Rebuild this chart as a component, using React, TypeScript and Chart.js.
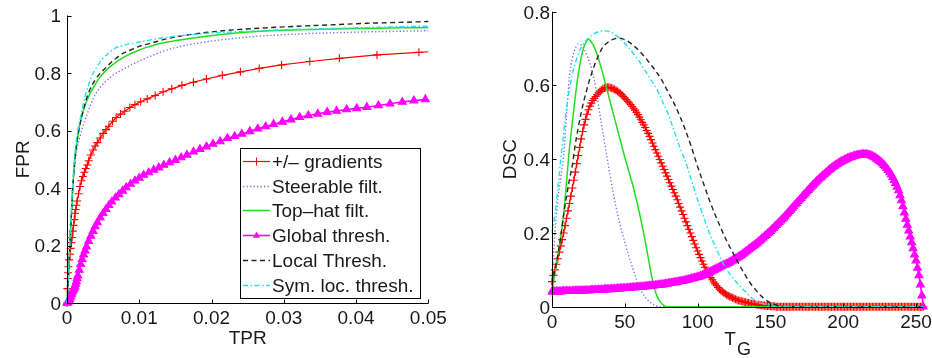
import React, { useEffect, useRef } from "react";
import { Chart, registerables } from "chart.js";

Chart.register(...registerables);

const FONT = '"Liberation Sans", Arial, Helvetica, sans-serif';
const TEXT = "#1a1a1a";

// ---------------- Left panel: FPR vs TPR ----------------
const rocXTicks = [0, 0.01, 0.02, 0.03, 0.04, 0.05];
const rocXTickLabels = ["0", "0.01", "0.02", "0.03", "0.04", "0.05"];
const rocYTicks = [0, 0.2, 0.4, 0.6, 0.8, 1];
const rocYTickLabels = ["0", "0.2", "0.4", "0.6", "0.8", "1"];

const rocGradX = [0, 0.00005, 0.0001, 0.00015, 0.0002, 0.0003, 0.0004, 0.0005, 0.0006, 0.0007,
  0.0008, 0.0009, 0.001, 0.0011, 0.0012, 0.0013, 0.0014, 0.0016, 0.0018, 0.002,
  0.0022, 0.0024, 0.0026, 0.0028, 0.003, 0.0033, 0.0036, 0.0039, 0.0042, 0.0046,
  0.005, 0.0054, 0.0058, 0.0063, 0.0068, 0.0074, 0.008, 0.0087, 0.0094, 0.0102,
  0.0111, 0.0122, 0.0133, 0.0145, 0.0159, 0.0175, 0.0193, 0.0215, 0.024, 0.0266,
  0.0297, 0.0336, 0.0377, 0.0429, 0.0487, 0.05];
const rocGradY = [0, 0.05, 0.085, 0.105, 0.126, 0.15, 0.17, 0.19, 0.21, 0.228,
  0.25, 0.27, 0.29, 0.312, 0.325, 0.34, 0.355, 0.38, 0.405, 0.425,
  0.44, 0.455, 0.468, 0.48, 0.495, 0.515, 0.532, 0.546, 0.558, 0.574,
  0.59, 0.603, 0.615, 0.632, 0.645, 0.657, 0.667, 0.68, 0.69, 0.7,
  0.71, 0.722, 0.735, 0.745, 0.757, 0.768, 0.779, 0.792, 0.804, 0.816,
  0.828, 0.84, 0.851, 0.863, 0.872, 0.874];

const rocSteerX = [0, 0.0002, 0.0004, 0.0006, 0.0008, 0.0011, 0.0014, 0.0018, 0.0024, 0.003,
  0.0036, 0.0046, 0.006, 0.0083, 0.0115, 0.0145, 0.0184, 0.023, 0.0277, 0.0323,
  0.0369, 0.0415, 0.046, 0.05];
const rocSteerY = [0, 0.1, 0.22, 0.32, 0.41, 0.49, 0.54, 0.578, 0.63, 0.671,
  0.71, 0.75, 0.785, 0.82, 0.858, 0.885, 0.905, 0.92, 0.93, 0.936,
  0.94, 0.943, 0.945, 0.947];

const rocTopHatX = [0, 0.0002, 0.0004, 0.0006, 0.0008, 0.0011, 0.0014, 0.0017, 0.0021, 0.0026,
  0.0032, 0.0039, 0.0047, 0.0057, 0.0068, 0.008, 0.0095, 0.011, 0.0125, 0.0145,
  0.0165, 0.0185, 0.023, 0.0275, 0.0323, 0.037, 0.0415, 0.046, 0.05];
const rocTopHatY = [0, 0.09, 0.2, 0.3, 0.4, 0.5, 0.56, 0.61, 0.655, 0.695,
  0.729, 0.76, 0.79, 0.816, 0.838, 0.857, 0.875, 0.889, 0.9, 0.91,
  0.918, 0.925, 0.938, 0.946, 0.95, 0.953, 0.955, 0.957, 0.958];

const rocGlobalX = [0, 0.0001, 0.0002, 0.0003, 0.0004, 0.0005, 0.0006, 0.0007, 0.0008, 0.0009,
  0.001, 0.0011, 0.0012, 0.0013, 0.0014, 0.0015, 0.0017, 0.0019, 0.0021, 0.0023,
  0.0025, 0.0027, 0.003, 0.0033, 0.0036, 0.0039, 0.0042, 0.0046, 0.005, 0.0054,
  0.0058, 0.0062, 0.0067, 0.0072, 0.0077, 0.0082, 0.0088, 0.0094, 0.01, 0.0106,
  0.0113, 0.012, 0.0127, 0.0134, 0.0142, 0.015, 0.0158, 0.0166, 0.0175, 0.0184,
  0.0193, 0.0202, 0.0212, 0.0222, 0.0232, 0.0242, 0.0253, 0.0264, 0.0275, 0.0286,
  0.0298, 0.031, 0.0322, 0.0334, 0.0347, 0.036, 0.0373, 0.0387, 0.0401, 0.0415,
  0.0431, 0.0447, 0.0464, 0.048, 0.0496];
const rocGlobalY = [0, 0.002, 0.005, 0.01, 0.015, 0.022, 0.03, 0.036, 0.042, 0.048,
  0.053, 0.058, 0.066, 0.075, 0.085, 0.095, 0.115, 0.135, 0.152, 0.168,
  0.182, 0.196, 0.215, 0.233, 0.25, 0.266, 0.28, 0.297, 0.312, 0.326,
  0.34, 0.352, 0.366, 0.378, 0.39, 0.402, 0.414, 0.425, 0.435, 0.445,
  0.454, 0.463, 0.471, 0.48, 0.489, 0.497, 0.506, 0.515, 0.526, 0.535,
  0.544, 0.553, 0.562, 0.573, 0.58, 0.588, 0.597, 0.606, 0.614, 0.622,
  0.63, 0.638, 0.646, 0.652, 0.658, 0.664, 0.668, 0.673, 0.677, 0.681,
  0.687, 0.693, 0.699, 0.704, 0.708];

const rocLocalX = [0, 0.0002, 0.0004, 0.0006, 0.0008, 0.0011, 0.00134, 0.0017, 0.00226, 0.00295,
  0.0039, 0.00526, 0.0065, 0.0076, 0.0088, 0.0099, 0.0115, 0.014, 0.0166, 0.02,
  0.023, 0.0275, 0.0323, 0.037, 0.0415, 0.046, 0.05];
const rocLocalY = [0, 0.09, 0.2, 0.3, 0.4, 0.5, 0.555, 0.61, 0.671, 0.729,
  0.776, 0.816, 0.845, 0.866, 0.88, 0.892, 0.903, 0.92, 0.932, 0.943,
  0.95, 0.957, 0.963, 0.968, 0.973, 0.976, 0.979];

const rocSymX = [0, 0.0002, 0.0004, 0.0006, 0.0008, 0.0011, 0.0014, 0.0018, 0.0025, 0.0034,
  0.0041, 0.0048, 0.0057, 0.0066, 0.0078, 0.009, 0.0105, 0.0122, 0.014, 0.0166,
  0.02, 0.023, 0.0275, 0.0323, 0.037, 0.0415, 0.046, 0.05];
const rocSymY = [0, 0.1, 0.22, 0.32, 0.42, 0.52, 0.585, 0.637, 0.718, 0.787,
  0.82, 0.845, 0.868, 0.886, 0.896, 0.903, 0.91, 0.918, 0.925, 0.932,
  0.939, 0.943, 0.948, 0.952, 0.955, 0.958, 0.961, 0.963];

// ---------------- Right panel: DSC vs T_G ----------------
const dscXTicks = [0, 50, 100, 150, 200, 250];
const dscXTickLabels = ["0", "50", "100", "150", "200", "250"];
const dscYTicks = [0, 0.2, 0.4, 0.6, 0.8];
const dscYTickLabels = ["0", "0.2", "0.4", "0.6", "0.8"];

// one value per grey level T_G = 0 .. 255
const dscGradY = [
  0.068, 0.085, 0.1, 0.115, 0.13, 0.148, 0.165, 0.182, 0.2, 0.22,
  0.24, 0.26, 0.28, 0.3, 0.322, 0.343, 0.365, 0.388, 0.41, 0.432,
  0.455, 0.475, 0.493, 0.508, 0.522, 0.534, 0.544, 0.552, 0.559, 0.565,
  0.57, 0.575, 0.58, 0.584, 0.588, 0.591, 0.593, 0.594, 0.595, 0.595,
  0.594, 0.593, 0.591, 0.589, 0.587, 0.584, 0.581, 0.578, 0.574, 0.57,
  0.566, 0.562, 0.557, 0.553, 0.548, 0.543, 0.538, 0.533, 0.527, 0.521,
  0.514, 0.507, 0.5, 0.493, 0.486, 0.478, 0.47, 0.462, 0.453, 0.444,
  0.435, 0.426, 0.417, 0.408, 0.399, 0.39, 0.381, 0.372, 0.363, 0.354,
  0.345, 0.336, 0.327, 0.318, 0.309, 0.3, 0.29, 0.28, 0.27, 0.26,
  0.25, 0.24, 0.23, 0.22, 0.21, 0.2, 0.19, 0.18, 0.17, 0.16,
  0.151, 0.142, 0.133, 0.124, 0.115, 0.107, 0.099, 0.092, 0.085, 0.079,
  0.073, 0.067, 0.062, 0.057, 0.052, 0.048, 0.044, 0.041, 0.038, 0.035,
  0.032, 0.03, 0.028, 0.026, 0.024, 0.022, 0.02, 0.019, 0.017, 0.016,
  0.015, 0.014, 0.013, 0.012, 0.011, 0.01, 0.009, 0.008, 0.007, 0.007,
  0.006, 0.005, 0.005, 0.004, 0.004, 0.003, 0.003, 0.002, 0.002, 0.002,
  0.001, 0.001, 0.001, 0.001, 0, 0, 0, 0, 0, 0,
  0, 0, 0, 0, 0, 0, 0, 0, 0, 0,
  0, 0, 0, 0, 0, 0, 0, 0, 0, 0,
  0, 0, 0, 0, 0, 0, 0, 0, 0, 0,
  0, 0, 0, 0, 0, 0, 0, 0, 0, 0,
  0, 0, 0, 0, 0, 0, 0, 0, 0, 0,
  0, 0, 0, 0, 0, 0, 0, 0, 0, 0,
  0, 0, 0, 0, 0, 0, 0, 0, 0, 0,
  0, 0, 0, 0, 0, 0, 0, 0, 0, 0,
  0, 0, 0, 0, 0, 0, 0, 0, 0, 0,
  0, 0, 0, 0, 0, 0];

const dscGlobalY = [
  0.041, 0.041, 0.041, 0.041, 0.041, 0.041, 0.041, 0.042, 0.042, 0.042,
  0.042, 0.042, 0.042, 0.042, 0.042, 0.043, 0.043, 0.043, 0.043, 0.043,
  0.043, 0.043, 0.044, 0.044, 0.044, 0.044, 0.044, 0.045, 0.045, 0.045,
  0.045, 0.045, 0.046, 0.046, 0.046, 0.046, 0.047, 0.047, 0.047, 0.047,
  0.047, 0.048, 0.048, 0.048, 0.048, 0.049, 0.049, 0.049, 0.05, 0.05,
  0.05, 0.05, 0.051, 0.051, 0.051, 0.052, 0.052, 0.052, 0.053, 0.053,
  0.053, 0.054, 0.054, 0.054, 0.055, 0.055, 0.056, 0.056, 0.057, 0.057,
  0.057, 0.058, 0.058, 0.059, 0.059, 0.06, 0.06, 0.061, 0.062, 0.062,
  0.063, 0.064, 0.064, 0.065, 0.066, 0.066, 0.067, 0.068, 0.069, 0.069,
  0.07, 0.071, 0.072, 0.073, 0.074, 0.075, 0.076, 0.077, 0.078, 0.079,
  0.08, 0.081, 0.083, 0.084, 0.086, 0.087, 0.089, 0.091, 0.093, 0.095,
  0.097, 0.099, 0.101, 0.103, 0.105, 0.107, 0.109, 0.111, 0.113, 0.114,
  0.116, 0.118, 0.12, 0.123, 0.125, 0.127, 0.13, 0.132, 0.135, 0.137,
  0.14, 0.143, 0.146, 0.149, 0.152, 0.155, 0.158, 0.161, 0.164, 0.167,
  0.17, 0.173, 0.177, 0.18, 0.184, 0.187, 0.191, 0.194, 0.198, 0.201,
  0.205, 0.209, 0.213, 0.217, 0.221, 0.225, 0.229, 0.233, 0.237, 0.241,
  0.245, 0.25, 0.254, 0.259, 0.263, 0.268, 0.272, 0.277, 0.281, 0.286,
  0.29, 0.294, 0.299, 0.303, 0.307, 0.312, 0.316, 0.32, 0.325, 0.329,
  0.333, 0.337, 0.341, 0.345, 0.349, 0.352, 0.356, 0.359, 0.363, 0.366,
  0.37, 0.373, 0.376, 0.379, 0.382, 0.385, 0.387, 0.39, 0.392, 0.394,
  0.396, 0.398, 0.4, 0.402, 0.404, 0.405, 0.406, 0.408, 0.409, 0.41,
  0.411, 0.412, 0.412, 0.413, 0.413, 0.413, 0.413, 0.412, 0.411, 0.41,
  0.408, 0.406, 0.404, 0.401, 0.398, 0.395, 0.392, 0.388, 0.384, 0.38,
  0.375, 0.37, 0.364, 0.358, 0.351, 0.343, 0.335, 0.325, 0.315, 0.302,
  0.288, 0.272, 0.255, 0.238, 0.222, 0.206, 0.19, 0.174, 0.158, 0.141,
  0.125, 0.105, 0.085, 0.06, 0.03, 0];

const dscSteerX = [0, 2, 4, 6, 8, 10, 12, 14, 16, 18, 20, 22, 24, 26, 28, 30, 32, 34, 36, 38,
  40, 42, 44, 46, 48, 50, 52, 54, 56, 58, 60, 62, 64, 66, 68, 70, 72, 74, 255];
const dscSteerY = [0.08, 0.2, 0.29, 0.35, 0.41, 0.52, 0.625, 0.675, 0.7, 0.712, 0.71, 0.698, 0.682, 0.66, 0.632, 0.595, 0.545, 0.495, 0.448, 0.4,
  0.355, 0.31, 0.27, 0.235, 0.203, 0.175, 0.147, 0.122, 0.098, 0.074, 0.054, 0.038, 0.026, 0.017, 0.01, 0.005, 0.002, 0, 0];

const dscTopHatX = [0, 2, 4, 6, 8, 10, 12, 14, 16, 18, 20, 22, 24, 25, 26, 28, 30, 32, 34, 36,
  38, 40, 42, 44, 46, 48, 50, 52, 54, 56, 58, 60, 62, 64, 66, 68, 70, 72, 74, 76, 78, 80, 255];
const dscTopHatY = [0.045, 0.09, 0.14, 0.19, 0.25, 0.34, 0.43, 0.5, 0.57, 0.63, 0.675, 0.705, 0.722, 0.725, 0.723, 0.712, 0.695, 0.672, 0.645, 0.615,
  0.585, 0.555, 0.525, 0.495, 0.465, 0.435, 0.405, 0.378, 0.35, 0.322, 0.29, 0.255, 0.218, 0.178, 0.135, 0.092, 0.055, 0.03, 0.015, 0.006, 0.001, 0, 0];

const dscLocalX = [0, 2, 4, 6, 8, 10, 12, 14, 16, 18, 20, 22, 24, 26, 28, 30, 34, 38, 42, 45,
  48, 52, 56, 60, 64, 68, 72, 76, 80, 84, 88, 92, 96, 100, 104, 108, 112, 116, 120, 124,
  128, 132, 136, 140, 144, 148, 152, 156, 160, 255];
const dscLocalY = [0.06, 0.1, 0.14, 0.19, 0.25, 0.3, 0.345, 0.385, 0.44, 0.485, 0.525, 0.56, 0.59, 0.618, 0.642, 0.663, 0.698, 0.716, 0.725, 0.728,
  0.727, 0.72, 0.708, 0.693, 0.676, 0.656, 0.635, 0.61, 0.58, 0.55, 0.515, 0.475, 0.43, 0.38, 0.335, 0.29, 0.25, 0.213, 0.178, 0.148,
  0.118, 0.09, 0.065, 0.045, 0.028, 0.015, 0.007, 0.002, 0, 0];

const dscSymX = [0, 2, 4, 6, 8, 10, 12, 14, 16, 18, 20, 24, 28, 32, 36, 40, 44, 48, 52, 56,
  60, 64, 68, 72, 76, 80, 84, 88, 92, 96, 100, 104, 108, 112, 116, 120, 124, 128, 132, 136,
  140, 144, 148, 152, 156, 255];
const dscSymY = [0.2, 0.25, 0.32, 0.4, 0.47, 0.54, 0.59, 0.63, 0.66, 0.685, 0.703, 0.725, 0.738, 0.746, 0.748, 0.745, 0.736, 0.723, 0.705, 0.686,
  0.665, 0.64, 0.615, 0.59, 0.555, 0.52, 0.475, 0.43, 0.39, 0.34, 0.29, 0.245, 0.2, 0.165, 0.13, 0.1, 0.08, 0.06, 0.044, 0.028,
  0.016, 0.009, 0.005, 0.002, 0, 0];

// ---------------- Series styles ----------------
type Style = { label: string; color: string; width: number; dash: number[]; marker: string | null; size: number };
const STYLES: Style[] = [
  { label: "+/\u2013 gradients", color: "#ff0000", width: 1.2, dash: [], marker: "cross", size: 4 },
  { label: "Steerable filt.", color: "#6f6ff8", width: 1.4, dash: [1.3, 2.2], marker: null, size: 0 },
  { label: "Top\u2013hat filt.", color: "#22dd22", width: 1.5, dash: [], marker: null, size: 0 },
  { label: "Global thresh.", color: "#ff00ff", width: 1.6, dash: [], marker: "triangle", size: 4.5 },
  { label: "Local Thresh.", color: "#262626", width: 1.4, dash: [5, 3.5], marker: null, size: 0 },
  { label: "Sym. loc. thresh.", color: "#1ee3ee", width: 1.4, dash: [5, 2.5, 1.5, 2.5], marker: null, size: 0 },
];

function pts(xs: number[], ys: number[]) {
  return ys.map((y, i) => ({ x: xs[i], y }));
}

function makeDataset(idx: number, data: { x: number; y: number }[], lastNoMarker = false) {
  const s = STYLES[idx];
  const radii = data.map((_, i) => (s.marker ? (lastNoMarker && i === data.length - 1 ? 0 : s.size) : 0));
  return {
    label: s.label,
    data,
    borderColor: s.color,
    backgroundColor: s.color,
    borderWidth: s.width,
    borderDash: s.dash,
    pointStyle: s.marker || "circle",
    pointRadius: radii,
    pointHoverRadius: 0,
    pointBorderColor: s.color,
    pointBackgroundColor: s.color,
    pointBorderWidth: 1.1,
    fill: false,
    cubicInterpolationMode: s.marker ? "default" : "monotone",
    order: 6 - idx,
    clip: false,
  };
}

type AxesOpts = {
  xTicks: number[]; xLabels: string[]; yTicks: number[]; yLabels: string[];
  yGap: number; xTitle: string; xSub?: string; yTitle: string; yTitleX: number;
};

function axesPlugin(o: AxesOpts) {
  return {
    id: "matlabAxes",
    afterDatasetsDraw(chart: any) {
      const { ctx, chartArea: a } = chart;
      const xs = chart.scales.x;
      const ys = chart.scales.y;
      ctx.save();
      ctx.setLineDash([]);
      ctx.strokeStyle = "#000";
      ctx.lineWidth = 1;
      const L = Math.round(a.left) + 0.5;
      const B = Math.round(a.bottom) + 0.5;
      ctx.beginPath();
      ctx.moveTo(L, a.top);
      ctx.lineTo(L, B);
      ctx.lineTo(a.right, B);
      ctx.stroke();
      ctx.beginPath();
      o.xTicks.forEach((v) => {
        const p = Math.round(xs.getPixelForValue(v)) + 0.5;
        ctx.moveTo(p, B);
        ctx.lineTo(p, B - 4);
      });
      o.yTicks.forEach((v) => {
        const p = Math.round(ys.getPixelForValue(v)) + 0.5;
        ctx.moveTo(L, p);
        ctx.lineTo(L + 4, p);
      });
      ctx.stroke();

      ctx.fillStyle = TEXT;
      ctx.font = `19px ${FONT}`;
      ctx.textBaseline = "alphabetic";
      ctx.textAlign = "center";
      o.xTicks.forEach((v, i) => ctx.fillText(o.xLabels[i], xs.getPixelForValue(v), a.bottom + 21));
      ctx.textAlign = "right";
      o.yTicks.forEach((v, i) => ctx.fillText(o.yLabels[i], a.left - o.yGap, ys.getPixelForValue(v) + 6.8));

      // x title
      const cx = (a.left + a.right) / 2;
      if (o.xSub) {
        ctx.font = `19px ${FONT}`;
        const wT = ctx.measureText(o.xTitle).width;
        ctx.font = `18px ${FONT}`;
        const wG = ctx.measureText(o.xSub).width;
        const start = cx - (wT + wG + 1) / 2;
        ctx.textAlign = "left";
        ctx.font = `19px ${FONT}`;
        ctx.fillText(o.xTitle, start, 345);
        ctx.font = `18px ${FONT}`;
        ctx.fillText(o.xSub, start + wT + 1, 355);
      } else {
        ctx.textAlign = "center";
        ctx.fillText(o.xTitle, cx, 344);
      }
      // y title
      ctx.font = `19px ${FONT}`;
      ctx.translate(o.yTitleX, (a.top + a.bottom) / 2);
      ctx.rotate(-Math.PI / 2);
      ctx.textAlign = "center";
      ctx.fillText(o.yTitle, 0, 0);
      ctx.restore();
    },
  };
}

const legendPlugin = {
  id: "rocLegend",
  afterDraw(chart: any) {
    const ctx = chart.ctx;
    ctx.save();
    ctx.fillStyle = "#fff";
    ctx.fillRect(240.5, 148.5, 180, 150);
    ctx.strokeStyle = "#000";
    ctx.lineWidth = 1;
    ctx.setLineDash([]);
    ctx.strokeRect(240.5, 148.5, 180, 150);
    STYLES.forEach((s, i) => {
      const y = Math.round(161 + i * 24.7) + 0.5;
      ctx.strokeStyle = s.color;
      ctx.lineWidth = s.width;
      ctx.setLineDash(s.dash);
      ctx.beginPath();
      ctx.moveTo(243, y);
      ctx.lineTo(270, y);
      ctx.stroke();
      ctx.setLineDash([]);
      const mx = 256.5;
      if (s.marker === "cross") {
        ctx.lineWidth = 1;
        ctx.beginPath();
        ctx.moveTo(mx - 4, y);
        ctx.lineTo(mx + 4, y);
        ctx.moveTo(mx, y - 4);
        ctx.lineTo(mx, y + 4);
        ctx.stroke();
      } else if (s.marker === "triangle") {
        ctx.fillStyle = s.color;
        ctx.beginPath();
        ctx.moveTo(mx, y - 4);
        ctx.lineTo(mx + 3.6, y + 2.2);
        ctx.lineTo(mx - 3.6, y + 2.2);
        ctx.closePath();
        ctx.fill();
      }
      ctx.fillStyle = TEXT;
      ctx.font = `19px ${FONT}`;
      ctx.textAlign = "left";
      ctx.textBaseline = "alphabetic";
      ctx.fillText(s.label, 272, y + 6.8);
    });
    ctx.restore();
  },
};

function baseOptions(padding: any, xMin: number, xMax: number, yMin: number, yMax: number) {
  return {
    responsive: false,
    maintainAspectRatio: false,
    devicePixelRatio: 1,
    animation: false as const,
    events: [] as any[],
    layout: { padding },
    plugins: { legend: { display: false }, tooltip: { enabled: false } },
    scales: {
      x: { type: "linear" as const, display: false, min: xMin, max: xMax },
      y: { type: "linear" as const, display: false, min: yMin, max: yMax },
    },
  };
}

export default function App() {
  const leftRef = useRef<HTMLCanvasElement>(null);
  const rightRef = useRef<HTMLCanvasElement>(null);

  useEffect(() => {
    const levels = dscGradY.map((_, i) => i);
    const left = new Chart(leftRef.current as HTMLCanvasElement, {
      type: "line",
      data: {
        datasets: [
          makeDataset(0, pts(rocGradX, rocGradY), true),
          makeDataset(1, pts(rocSteerX, rocSteerY)),
          makeDataset(2, pts(rocTopHatX, rocTopHatY)),
          makeDataset(3, pts(rocGlobalX, rocGlobalY)),
          makeDataset(4, pts(rocLocalX, rocLocalY)),
          makeDataset(5, pts(rocSymX, rocSymY)),
        ] as any,
      },
      options: baseOptions({ left: 67, right: 21.7, top: 15.5, bottom: 55 }, 0, 0.05, 0, 1) as any,
      plugins: [
        axesPlugin({
          xTicks: rocXTicks, xLabels: rocXTickLabels, yTicks: rocYTicks, yLabels: rocYTickLabels,
          yGap: 6, xTitle: "TPR", yTitle: "FPR", yTitleX: 28.5,
        }),
        legendPlugin,
      ],
    });
    const right = new Chart(rightRef.current as HTMLCanvasElement, {
      type: "line",
      data: {
        datasets: [
          makeDataset(0, pts(levels, dscGradY)),
          makeDataset(1, pts(dscSteerX, dscSteerY)),
          makeDataset(2, pts(dscTopHatX, dscTopHatY)),
          makeDataset(3, pts(levels, dscGlobalY)),
          makeDataset(4, pts(dscLocalX, dscLocalY)),
          makeDataset(5, pts(dscSymX, dscSymY)),
        ] as any,
      },
      options: baseOptions({ left: 82, right: 8.7, top: 11.7, bottom: 51.3 }, 0, 255, 0, 0.8) as any,
      plugins: [
        axesPlugin({
          xTicks: dscXTicks, xLabels: dscXTickLabels, yTicks: dscYTicks, yLabels: dscYTickLabels,
          yGap: 2, xTitle: "T", xSub: "G", yTitle: "DSC", yTitleX: 46,
        }),
      ],
    });
    return () => {
      left.destroy();
      right.destroy();
    };
  }, []);

  return (
    <div style={{ position: "fixed", left: 0, top: 0, width: 932, height: 358, background: "#fff", overflow: "hidden" }}>
      <canvas ref={leftRef} width={450} height={358} style={{ position: "absolute", left: 0, top: 0, width: 450, height: 358 }} />
      <canvas ref={rightRef} width={462} height={358} style={{ position: "absolute", left: 470, top: 0, width: 462, height: 358 }} />
    </div>
  );
}
